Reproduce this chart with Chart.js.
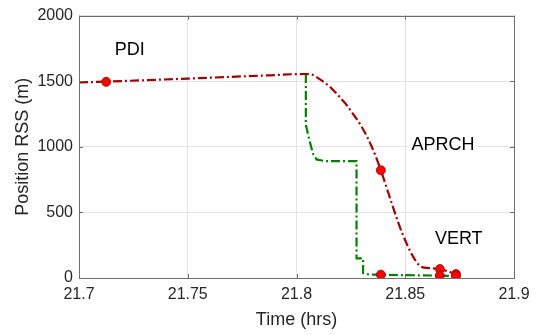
<!DOCTYPE html>
<html>
<head>
<meta charset="utf-8">
<script src="https://cdn.jsdelivr.net/npm/chart.js@4"></script>
<style>
html,body{margin:0;padding:0;background:#fff}
#box{width:537px;height:335px}
</style>
</head>
<body>
<div id="box"><canvas id="grafico"></canvas></div>
<script>
let xTicks = [21.7,21.75,21.8,21.85,21.9]
let yTicks = [0,500,1000,1500,2000]

// trajetoria vermelha (PDI -> APRCH -> VERT)
let redT = [21.7,21.7125,21.75,21.7877,21.8038,21.807,21.8115,21.8155,21.8191,21.8225,21.8253,21.8299,21.8345,21.8388,21.8414,21.8444,21.8475,21.8506,21.8536,21.8567,21.8613,21.8659,21.8733]
let redV = [1490,1497,1520,1545,1555,1550,1506,1455,1393,1330,1267,1154,1004,821,690,539,389,264,163,93,75,68,30]

// trajetoria verde
let greenT = [21.8043,21.8043,21.8061,21.8075,21.8092,21.813,21.8276,21.8276,21.8306,21.8306,21.8337,21.8388,21.8659,21.8733]
let greenV = [1555,1167,1041,950,904,891,891,150,150,38,25,25,18,16]

// pontos marcados
let markT = [21.7125,21.8388,21.8659,21.8733,21.8388,21.8659,21.8733]
let markV = [1495,821,68,30,25,18,16]

let rotulos = [
  {txt:"PDI", t:21.7233, v:1734, fundo:false},
  {txt:"APRCH", t:21.8674, v:1010, fundo:true},
  {txt:"VERT", t:21.8746, v:296, fundo:false}
]

let fonte = "'Liberation Sans', Arial, sans-serif"

function pares(xs, ys){
  return xs.map((x,i) => ({x:x, y:ys[i]}))
}

let caixa = {
  id:"caixa",
  afterDraw(chart){
    let c = chart.ctx
    let a = chart.chartArea
    let sx = chart.scales.x
    let sy = chart.scales.y
    c.save()
    c.strokeStyle = "#6e6e6e"
    c.lineWidth = 1
    c.beginPath()
    xTicks.forEach(t => {
      let px = Math.round(sx.getPixelForValue(t)) + 0.5
      c.moveTo(px, a.bottom); c.lineTo(px, a.bottom - 4)
      c.moveTo(px, a.top); c.lineTo(px, a.top + 4)
    })
    yTicks.forEach(v => {
      let py = Math.round(sy.getPixelForValue(v)) + 0.5
      c.moveTo(a.left, py); c.lineTo(a.left + 4, py)
      c.moveTo(a.right, py); c.lineTo(a.right - 4, py)
    })
    c.stroke()
    c.strokeRect(Math.round(a.left)+0.5, Math.round(a.top)+0.5, Math.round(a.right-a.left), Math.round(a.bottom-a.top))
    c.restore()
  }
}

let textos = {
  id:"textos",
  afterDatasetsDraw(chart){
    let c = chart.ctx
    let sx = chart.scales.x
    let sy = chart.scales.y
    c.save()
    c.font = "18px " + fonte
    c.textAlign = "center"
    c.textBaseline = "middle"
    rotulos.forEach(r => {
      let px = sx.getPixelForValue(r.t)
      let py = sy.getPixelForValue(r.v)
      if(r.fundo){
        let w = c.measureText(r.txt).width
        c.fillStyle = "#fff"
        c.fillRect(px - w/2 - 3, py - 11, w + 6, 22)
      }
      c.fillStyle = "#000"
      c.fillText(r.txt, px, py)
    })
    c.restore()
  }
}

let grafico = new Chart(document.getElementById("grafico"),{
  type:"scatter",
  data:{
    datasets:[
      {
        data:pares(redT, redV),
        showLine:true,
        borderColor:"#a00000",
        borderWidth:2.2,
        borderDash:[9,3,2,3],
        pointRadius:0,
        cubicInterpolationMode:"monotone",
        order:2
      },
      {
        data:pares(greenT, greenV),
        showLine:true,
        borderColor:"#008000",
        borderWidth:2.2,
        borderDash:[9,3,2,3],
        pointRadius:0,
        tension:0,
        order:3
      },
      {
        data:pares(markT, markV),
        showLine:false,
        pointRadius:4.5,
        pointBackgroundColor:"#ff0000",
        pointBorderColor:"#8b0000",
        pointBorderWidth:0.8,
        order:1
      }
    ]
  },
  options:{
    responsive:true,
    maintainAspectRatio:false,
    animation:false,
    layout:{padding:{top:13, right:23, left:0, bottom:0}},
    plugins:{legend:{display:false}, tooltip:{enabled:false}},
    scales:{
      x:{
        type:"linear",
        min:21.7,
        max:21.9,
        afterBuildTicks(s){ s.ticks = xTicks.map(v => ({value:v})) },
        afterFit(s){ s.height = 57 },
        grid:{color:"#e3e3e3", drawTicks:false},
        border:{display:false},
        ticks:{
          padding:7,
          color:"#262626",
          font:{family:fonte, size:16},
          callback:v => String(Number(v.toFixed(2)))
        },
        title:{display:true, text:"Time (hrs)", color:"#262626", font:{family:fonte, size:18}, padding:{top:2}}
      },
      y:{
        min:0,
        max:2000,
        afterBuildTicks(s){ s.ticks = yTicks.map(v => ({value:v})) },
        afterFit(s){ s.width = 79 },
        grid:{color:"#e3e3e3", drawTicks:false},
        border:{display:false},
        ticks:{
          padding:6,
          color:"#262626",
          font:{family:fonte, size:16},
          callback:v => String(v)
        },
        title:{display:true, text:"Position RSS (m)", color:"#262626", font:{family:fonte, size:18}, padding:{top:12, bottom:4}}
      }
    }
  },
  plugins:[caixa, textos]
})
</script>
</body>
</html>
